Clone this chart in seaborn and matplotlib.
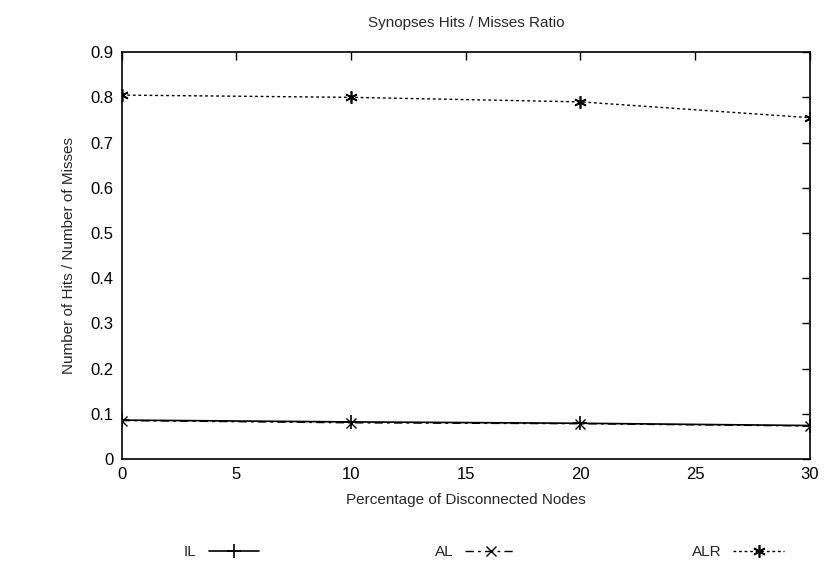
import pandas as pd
import seaborn as sns
import matplotlib
matplotlib.use('Agg')
import matplotlib.pyplot as plt

# values
disconnected = [0, 10, 20, 30]
il_ratio = [0.086, 0.082, 0.079, 0.074]
al_ratio = [0.085, 0.080, 0.078, 0.073]
alr_ratio = [0.805, 0.800, 0.790, 0.755]

x_ticks = [0, 5, 10, 15, 20, 25, 30]
y_ticks = [0, 0.1, 0.2, 0.3, 0.4, 0.5, 0.6, 0.7, 0.8, 0.9]

sns.set_style('white')
plt.rcParams['font.family'] = ['Liberation Sans', 'DejaVu Sans']

df = pd.DataFrame({'x': disconnected, 'IL': il_ratio, 'AL': al_ratio,
                   'ALR': alr_ratio})

fig = plt.figure(figsize=(8.34, 5.73), dpi=100)
ax = fig.add_axes([0.146, 0.199, 0.825, 0.710])

# gnuplot look: all black, different dash / point styles
sns.lineplot(data=df, x='x', y='IL', ax=ax, color='black', lw=1.2,
             marker='+', markersize=10, markeredgewidth=1.2,
             markeredgecolor='black', label='IL')
sns.lineplot(data=df, x='x', y='AL', ax=ax, color='black', lw=1.0,
             marker='x', markersize=7, markeredgewidth=1.0,
             markeredgecolor='black', label='AL')
ax.lines[-1].set_dashes([6, 3, 2, 3])
sns.lineplot(data=df, x='x', y='ALR', ax=ax, color='black', lw=1.0,
             marker=(6, 2, 0), markersize=9, markeredgewidth=1.2,
             markeredgecolor='black', label='ALR')
ax.lines[-1].set_dashes([2, 2])

ax.set_xlim(0, 30)
ax.set_ylim(0, 0.9)
ax.set_xticks(x_ticks)
ax.set_yticks(y_ticks)
ax.set_yticklabels(['0'] + ['%.1f' % v for v in y_ticks[1:]])
ax.tick_params(direction='in', length=6, top=True, right=True,
               labelsize=12, colors='black', width=1, pad=6)
for s in ax.spines.values():
    s.set_color('black')
    s.set_linewidth(1.2)

ax.set_title('Synopses Hits / Misses Ratio', fontsize=11, pad=18)
ax.set_xlabel('Percentage of Disconnected Nodes', fontsize=11, labelpad=8)
ax.set_ylabel('Number of Hits / Number of Misses', fontsize=11, labelpad=10)

handles, labels = ax.get_legend_handles_labels()
ax.get_legend().remove()
fig.legend(handles, labels, loc='lower center', bbox_to_anchor=(0.58, 0.0),
           ncol=3, frameon=False, markerfirst=False, handlelength=3.3,
           columnspacing=11.5, fontsize=11)

fig.savefig('out.png', dpi=100)
